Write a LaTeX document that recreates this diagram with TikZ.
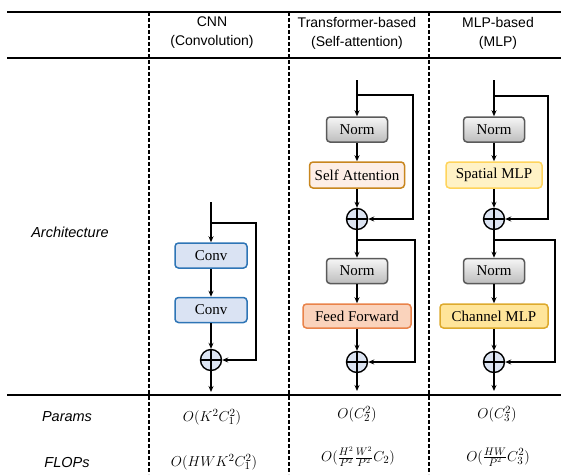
\documentclass[tikz,border=0pt]{standalone}
\usepackage{fontspec}
\setmainfont{Liberation Sans}
\newfontfamily\serifbox{Liberation Serif}
\usetikzlibrary{arrows.meta}
\definecolor{convfill}{HTML}{DAE3F3}
\definecolor{convdraw}{HTML}{2E75B6}
\definecolor{satfill}{HTML}{FDEEE6}
\definecolor{satdraw}{HTML}{C8861E}
\definecolor{fffill}{HTML}{FAD3BC}
\definecolor{ffdraw}{HTML}{E9834A}
\definecolor{smfill}{HTML}{FFF2C6}
\definecolor{smdraw}{HTML}{FFD45C}
\definecolor{cmfill}{HTML}{FFE59A}
\definecolor{cmdraw}{HTML}{DDAA2E}
\definecolor{normdraw}{HTML}{5A5A5A}
\definecolor{normtop}{HTML}{F6F6F6}
\definecolor{normbot}{HTML}{BDBDBD}
\definecolor{circfill}{HTML}{DCE4F2}
\tikzset{
  rule/.style={line width=2pt},
  vdash/.style={line width=1.3pt, dash pattern=on 4pt off 2pt},
  hdr/.style={font=\fontsize{14}{19}\selectfont, align=center},
  rowlab/.style={font=\fontsize{14.5}{17}\selectfont\itshape},
  mathlab/.style={font=\fontsize{15}{18}\selectfont},
  blk/.style={rounded corners=3.5pt, line width=1.5pt, inner sep=1pt,
    font=\serifbox\fontsize{15}{17}\selectfont},
  convbox/.style={blk, draw=convdraw, fill=convfill, minimum width=72pt, minimum height=25pt},
  normbox/.style={blk, draw=normdraw, top color=normtop, bottom color=normbot, minimum width=61pt, minimum height=25pt},
  satbox/.style={blk, draw=satdraw, fill=satfill, minimum width=95pt, minimum height=26pt},
  ffbox/.style={blk, draw=ffdraw, fill=fffill, minimum width=108pt, minimum height=24pt},
  smbox/.style={blk, draw=smdraw, fill=smfill, minimum width=96pt, minimum height=26pt},
  cmbox/.style={blk, draw=cmdraw, fill=cmfill, minimum width=108pt, minimum height=24pt},
  oplus/.style={circle, draw, line width=1.4pt, fill=circfill, minimum size=21pt, inner sep=0pt,
    path picture={\draw[line width=1.2pt] (path picture bounding box.north) -- (path picture bounding box.south)
      (path picture bounding box.west) -- (path picture bounding box.east);}},
  arr/.style={line width=1.4pt, -{Stealth[length=6pt,width=5pt]}},
  ln/.style={line width=1.4pt}
}
\begin{document}
\begin{tikzpicture}[x=1pt,y=-1pt]
\useasboundingbox (0,0) rectangle (561,474);
% table rules
\coordinate (r1l) at (7,12); \coordinate (r1r) at (561,12);
\coordinate (r2l) at (7,58); \coordinate (r2r) at (561,58);
\coordinate (r3l) at (7,395); \coordinate (r3r) at (561,395);
\draw[rule] (r1l) -- (r1r);
\draw[rule] (r2l) -- (r2r);
\draw[rule] (r3l) -- (r3r);
\coordinate (d1t) at (149,12); \coordinate (d1b) at (149,474);
\coordinate (d2t) at (289,12); \coordinate (d2b) at (289,474);
\coordinate (d3t) at (429,12); \coordinate (d3b) at (429,474);
\draw[vdash] (d1t) -- (d1b);
\draw[vdash] (d2t) -- (d2b);
\draw[vdash] (d3t) -- (d3b);
% headers
\node[hdr] (h1) at (212,33) {CNN\\(Convolution)};
\node[hdr] (h2) at (357,33) {Transformer-based\\(Self-attention)};
\node[hdr] (h3) at (498,33) {MLP-based\\(MLP)};
% row labels
\node[rowlab] (la) at (70,232) {Architecture};
\node[rowlab] (lp) at (67,417) {Params};
\node[rowlab] (lf) at (67,462) {FLOPs};
% complexity
\node[mathlab] (p1) at (212,417) {$O(K^2C_1^2)$};
\node[mathlab] (p2) at (357,414) {$O(C_2^2)$};
\node[mathlab] (p3) at (497,414) {$O(C_3^2)$};
\node[mathlab] (f1) at (214,462) {$O(HWK^2C_1^2)$};
\node[mathlab] (f2) at (358,457) {$O(\frac{H^2}{P^2}\frac{W^2}{P^2}C_2)$};
\node[mathlab] (f3) at (498,457) {$O(\frac{HW}{P^2}C_3^2)$};
% CNN block
\coordinate (ct) at (211,202);
\coordinate (cb) at (211,223);
\coordinate (cr) at (256,223);
\node[convbox] (conv1) at (211,255.5) {Conv};
\node[convbox] (conv2) at (211,310) {Conv};
\node[oplus] (cp) at (211,360) {};
\coordinate (co) at (211,392);
\draw[arr] (ct) -- (conv1);
\draw[arr] (conv1) -- (conv2);
\draw[arr] (conv2) -- (cp);
\draw[arr] (cb) -- (cr) |- (cp.east);
\draw[arr] (cp) -- (co);
% Transformer block
\coordinate (tt) at (357,80);
\coordinate (tb1) at (357,95);
\coordinate (tr1) at (413,95);
\node[normbox] (tn1) at (357,129.5) {Norm};
\node[satbox] (tsa) at (357,175) {Self Attention};
\node[oplus] (tp1) at (357,219) {};
\coordinate (tb2) at (357,240);
\coordinate (tr2) at (415,240);
\node[normbox] (tn2) at (357,271) {Norm};
\node[ffbox] (tff) at (357,316) {Feed Forward};
\node[oplus] (tp2) at (357,362) {};
\coordinate (to) at (357,391);
\draw[arr] (tt) -- (tn1);
\draw[arr] (tn1) -- (tsa);
\draw[arr] (tsa) -- (tp1);
\draw[arr] (tb1) -- (tr1) |- (tp1.east);
\draw[arr] (tp1) -- (tn2);
\draw[arr] (tn2) -- (tff);
\draw[arr] (tff) -- (tp2);
\draw[arr] (tb2) -- (tr2) |- (tp2.east);
\draw[arr] (tp2) -- (to);
% MLP block
\coordinate (mt) at (494,80);
\coordinate (mb1) at (494,96);
\coordinate (mr1) at (548,96);
\node[normbox] (mn1) at (494,129.5) {Norm};
\node[smbox] (msm) at (494,175) {Spatial MLP};
\node[oplus] (mp1) at (494,219) {};
\coordinate (mb2) at (494,240);
\coordinate (mr2) at (555,240);
\node[normbox] (mn2) at (494,271) {Norm};
\node[cmbox] (mcm) at (494,316) {Channel MLP};
\node[oplus] (mp2) at (494,362) {};
\coordinate (mo) at (494,391);
\draw[arr] (mt) -- (mn1);
\draw[arr] (mn1) -- (msm);
\draw[arr] (msm) -- (mp1);
\draw[arr] (mb1) -- (mr1) |- (mp1.east);
\draw[arr] (mp1) -- (mn2);
\draw[arr] (mn2) -- (mcm);
\draw[arr] (mcm) -- (mp2);
\draw[arr] (mb2) -- (mr2) |- (mp2.east);
\draw[arr] (mp2) -- (mo);
\end{tikzpicture}
\end{document}
